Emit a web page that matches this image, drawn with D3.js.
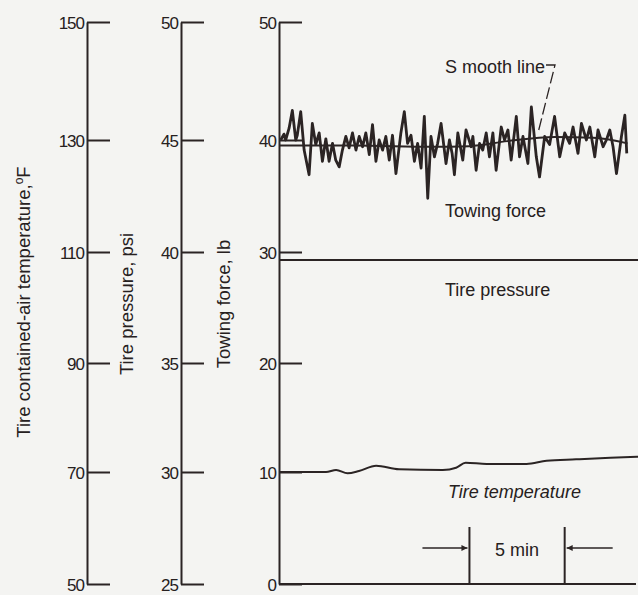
<!DOCTYPE html>
<html><head><meta charset="utf-8">
<script src="https://cdn.jsdelivr.net/npm/d3@7"></script>
<style>html,body{margin:0;padding:0;background:#f4f4f2;} svg{display:block}</style>
</head><body>
<svg id="chart" width="638" height="595"></svg>
<script>
// ---- data ----
const forceTicks = [0, 10, 20, 30, 40, 50];
const pressureTicks = [25, 30, 35, 40, 45, 50];
const tempTicks = [50, 70, 90, 110, 130, 150];

const towTime = [0.09,0.26,0.35,0.53,0.70,0.88,0.96,1.14,1.32,1.58,
  1.75,1.93,2.11,2.28,2.46,2.63,2.81,2.98,3.16,3.33,
  3.51,3.68,3.86,4.04,4.21,4.39,4.56,4.74,4.91,5.09,
  5.26,5.44,5.61,5.79,5.96,6.14,6.40,6.58,6.75,6.93,
  7.11,7.28,7.46,7.63,7.81,7.98,8.16,8.33,8.51,8.77,
  8.95,9.09,9.21,9.39,9.65,9.82,10.09,10.18,10.35,10.53,
  10.70,10.88,11.05,11.23,11.40,11.67,11.84,12.02,12.19,12.46,
  12.63,12.81,13.07,13.25,13.51,13.68,13.95,14.21,14.47,14.74,
  15.0,15.26,15.44,15.70,15.88,16.14,16.32,16.58,16.75,17.02,
  17.19,17.37,17.54,17.72,17.98,18.16,18.26];
const towForce = [40.0,40.5,40.0,41.0,42.5,40.0,40.4,42.4,39.1,36.9,
  41.4,39.6,40.6,38.1,40.1,38.1,39.7,38.2,37.6,39.1,
  40.3,39.3,40.6,39.1,40.3,39.4,40.6,38.7,41.3,38.1,
  40.0,39.1,40.3,38.2,40.4,37.0,40.6,42.4,39.7,40.4,
  38.1,39.7,37.5,42.0,34.8,40.3,38.5,39.7,41.4,37.9,
  40.0,38.8,36.9,40.6,38.2,40.85,39.4,40.3,37.3,39.7,
  39.1,40.6,38.5,40.6,37.3,41.1,40.0,40.85,38.2,42.0,
  38.5,40.3,37.9,42.8,38.5,36.7,40.3,39.6,42.0,38.5,
  40.6,39.7,41.1,38.8,41.4,40.0,41.1,38.5,40.85,39.4,
  40.0,40.85,39.4,37.0,40.3,42.1,38.8];

const smoothTime = [0, 4, 8, 10, 12, 14.5, 16.5, 18.3];
const smoothForce = [39.5, 39.5, 39.4, 39.45, 39.9, 40.25, 40.2, 39.7];

const pressureTime = [0, 18.85];
const pressureValue = [39.64, 39.64];

const tempTime = [0, 2.47, 3.0, 3.6, 4.2, 5.1, 6.3, 8.6, 9.3, 9.8, 10.9, 13.0, 14.05, 15.6, 17.4, 18.85];
const tempValue = [70.0, 70.0, 70.37, 69.77, 70.18, 71.15, 70.5, 70.37, 70.79, 71.71, 71.47, 71.47, 72.07, 72.33, 72.62, 72.81];

const intervalTimes = [10, 15];
const intervalLabel = "5 min";

const axisTitles = ["Tire contained-air temperature,", "Tire pressure, psi", "Towing force, lb"];
const curveLabels = ["S mooth line", "Towing force", "Tire pressure", "Tire temperature"];

// ---- layout ----
const ink = "#2b2424";
const textInk = "#262020";
const font = "'Liberation Sans', Arial, sans-serif";
const yPix = [584, 472, 363, 252, 140, 22];
const yForce = d3.scaleLinear().domain(forceTicks).range(yPix);
const yPress = d3.scaleLinear().domain(pressureTicks).range(yPix);
const yTemp = d3.scaleLinear().domain(tempTicks).range(yPix);
const x = d3.scaleLinear().domain([0, 18.85]).range([279, 638]);

const svg = d3.select("#chart");
svg.append("rect").attr("width", 638).attr("height", 595).attr("fill", "#f4f4f2");

function drawAxis(scale, ticks, xpos) {
  const g = svg.append("g").attr("transform", `translate(${xpos},0)`)
    .call(d3.axisLeft(scale).tickValues(ticks).tickSize(-23).tickSizeOuter(0).tickPadding(3).tickFormat(d3.format("d")));
  g.select(".domain").attr("stroke", ink).attr("stroke-width", 2);
  g.selectAll(".tick line").attr("stroke", ink).attr("stroke-width", 2);
  g.selectAll(".tick text").attr("fill", textInk).attr("font-family", font).attr("font-size", 17)
    .attr("dy", "0.36em").style("letter-spacing", "-1px");
  g.attr("font-family", null).attr("font-size", null);
  return g;
}
drawAxis(yTemp, tempTicks, 87);
drawAxis(yPress, pressureTicks, 181);
drawAxis(yForce, forceTicks, 279);

// bottom time axis line
svg.append("line").attr("x1", x(0)).attr("x2", x.range()[1] - 2)
  .attr("y1", yForce(0)).attr("y2", yForce(0)).attr("stroke", ink).attr("stroke-width", 2);

// axis titles
const titleSpec = [
  {cx: 30, cy: 302, sup: true},
  {cx: 133, cy: 304},
  {cx: 230, cy: 304}
];
titleSpec.forEach((s, i) => {
  const t = svg.append("text")
    .attr("transform", `translate(${s.cx},${s.cy}) rotate(-90)`)
    .attr("text-anchor", "middle").attr("font-family", font).attr("font-size", 18.5)
    .attr("fill", textInk);
  t.append("tspan").text(axisTitles[i]);
  if (s.sup) {
    t.append("tspan").attr("font-size", 12).attr("dy", -7).text("o");
    t.append("tspan").attr("dy", 7).text("F");
  }
});

// lines
const line = d3.line();
const towData = towTime.map((t, i) => [x(t), yForce(towForce[i])]);
svg.append("path").attr("d", line(towData)).attr("fill", "none")
  .attr("stroke", ink).attr("stroke-width", 2.8).attr("stroke-linejoin", "round");

const smoothData = smoothTime.map((t, i) => [x(t), yForce(smoothForce[i])]);
svg.append("path").attr("d", d3.line().curve(d3.curveMonotoneX)(smoothData)).attr("fill", "none")
  .attr("stroke", ink).attr("stroke-width", 2);

const pressData = pressureTime.map((t, i) => [x(t), yPress(pressureValue[i])]);
svg.append("path").attr("d", line(pressData)).attr("fill", "none")
  .attr("stroke", ink).attr("stroke-width", 2);

const tempData = tempTime.map((t, i) => [x(t), yTemp(tempValue[i])]);
svg.append("path").attr("d", d3.line().curve(d3.curveMonotoneX)(tempData)).attr("fill", "none")
  .attr("stroke", ink).attr("stroke-width", 2);

// curve labels
const labelPos = [[445, 73, "normal"], [445, 217, "normal"], [445, 296, "normal"], [448, 498, "italic"]];
curveLabels.forEach((txt, i) => {
  svg.append("text").attr("x", labelPos[i][0]).attr("y", labelPos[i][1])
    .attr("font-family", font).attr("font-size", 18).attr("font-style", labelPos[i][2])
    .attr("fill", textInk).text(txt);
});

// smooth line leader
svg.append("path").attr("d", "M546,65 L555,65 L538,133").attr("fill", "none")
  .attr("stroke", ink).attr("stroke-width", 1.3).attr("stroke-dasharray", "12,4");

// 5 min interval
const defs = svg.append("defs");
defs.append("marker").attr("id", "ah").attr("viewBox", "0 0 10 10").attr("refX", 10).attr("refY", 5)
  .attr("markerWidth", 8).attr("markerHeight", 6).attr("orient", "auto").attr("markerUnits", "userSpaceOnUse")
  .append("path").attr("d", "M0,0 L10,5 L0,10 Z").attr("fill", ink);
const ya = 548;
intervalTimes.forEach(t => {
  svg.append("line").attr("x1", x(t)).attr("x2", x(t)).attr("y1", 527).attr("y2", yForce(0))
    .attr("stroke", ink).attr("stroke-width", 2);
});
svg.append("line").attr("x1", x(intervalTimes[0]) - 47).attr("x2", x(intervalTimes[0]) - 2)
  .attr("y1", ya).attr("y2", ya).attr("stroke", ink).attr("stroke-width", 1.5).attr("marker-end", "url(#ah)");
svg.append("line").attr("x1", x(intervalTimes[1]) + 48).attr("x2", x(intervalTimes[1]) + 2)
  .attr("y1", ya).attr("y2", ya).attr("stroke", ink).attr("stroke-width", 1.5).attr("marker-end", "url(#ah)");
svg.append("text").attr("x", (x(intervalTimes[0]) + x(intervalTimes[1])) / 2).attr("y", 556)
  .attr("text-anchor", "middle").attr("font-family", font).attr("font-size", 18)
  .attr("fill", textInk).text(intervalLabel);
</script>
</body></html>
